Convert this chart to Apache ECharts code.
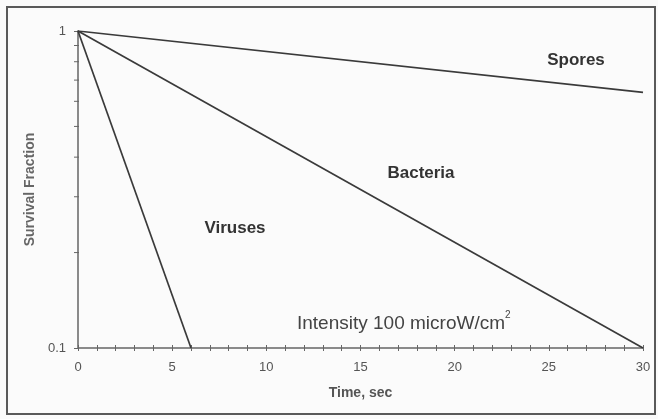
<!DOCTYPE html>
<html><head><meta charset="utf-8">
<script src="https://cdn.jsdelivr.net/npm/echarts@6/dist/echarts.min.js"></script>
<style>html,body{margin:0;padding:0;background:#fbfbfb;}#c{width:658px;height:419px;}</style>
</head><body><div id="c"></div>
<script>
const timeSec = [0, 6, 30];
const viruses = [[0, 1], [6, 0.1]];
const bacteria = [[0, 1], [30, 0.1]];
const spores = [[0, 1], [30, 0.64]];
const xTickLabels = [0, 5, 10, 15, 20, 25, 30];
const yMinorTicks = [0.2, 0.3, 0.4, 0.5, 0.6, 0.7, 0.8, 0.9];

const chart = echarts.init(document.getElementById('c'), null, {renderer: 'canvas'});
const lineStyle = {color: '#3a3a3a', width: 1.7};
const axisColor = '#8a8a8a';
chart.setOption({
  backgroundColor: '#fbfbfb',
  animation: false,
  grid: {left: 78, right: 15, top: 31, bottom: 71},
  xAxis: [{
    type: 'value', min: 0, max: 30, interval: 5,
    name: 'Time, sec', nameLocation: 'middle', nameGap: 38,
    nameTextStyle: {fontFamily: 'Liberation Sans', fontWeight: 'bold', fontSize: 14, color: '#555'},
    axisLine: {show: true, lineStyle: {color: axisColor, width: 2}},
    axisTick: {show: true, length: 3, lineStyle: {color: '#666', width: 1}},
    minorTick: {show: true, splitNumber: 5, length: 3, lineStyle: {color: '#666', width: 1}},
    axisLabel: {fontFamily: 'Liberation Sans', fontSize: 13, color: '#555', margin: 13},
    splitLine: {show: false}
  }, {
    type: 'value', min: 0, max: 30, interval: 5, position: 'bottom',
    axisLine: {show: false},
    axisTick: {show: true, inside: true, length: 3, lineStyle: {color: '#666', width: 1}},
    minorTick: {show: true, splitNumber: 5, length: 3, lineStyle: {color: '#666', width: 1}},
    axisLabel: {show: false}, splitLine: {show: false}
  }],
  yAxis: {
    type: 'log', logBase: 10, min: 0.1, max: 1,
    name: 'Survival Fraction', nameLocation: 'middle', nameGap: 34,
    nameTextStyle: {fontFamily: 'Liberation Sans', fontWeight: 'bold', fontSize: 14, color: '#666'},
    axisLine: {show: true, lineStyle: {color: axisColor, width: 2}},
    axisTick: {show: true, length: 4, lineStyle: {color: '#666'}},
    axisLabel: {fontFamily: 'Liberation Sans', fontSize: 13, color: '#555', margin: 12,
      formatter: v => (Math.abs(v - 1) < 1e-9 ? '1' : '0.1')},
    splitLine: {show: false}
  },
  series: [
    {type: 'line', data: viruses, symbol: 'none', lineStyle, silent: true},
    {type: 'line', data: bacteria, symbol: 'none', lineStyle, silent: true},
    {type: 'line', data: spores, symbol: 'none', lineStyle, silent: true},
    {type: 'custom', silent: true, data: yMinorTicks.map(v => [0, v]),
      renderItem: (params, api) => {
        const p = api.coord([api.value(0), api.value(1)]);
        return {type: 'line', shape: {x1: p[0] - 4, y1: p[1], x2: p[0] + 1, y2: p[1]},
          style: {stroke: '#666', lineWidth: 1}};
      }}
  ],
  graphic: [
    {type: 'rect', shape: {x: 7, y: 7, width: 648, height: 407}, style: {fill: 'none', stroke: '#5a5a5a', lineWidth: 2}, z: 100},
    {type: 'text', x: 576, y: 60, style: {text: 'Spores', fontFamily: 'Liberation Sans', fontWeight: 'bold', fontSize: 17, fill: '#333', align: 'center', verticalAlign: 'middle'}},
    {type: 'text', x: 421, y: 173, style: {text: 'Bacteria', fontFamily: 'Liberation Sans', fontWeight: 'bold', fontSize: 17, fill: '#333', align: 'center', verticalAlign: 'middle'}},
    {type: 'text', x: 235, y: 228, style: {text: 'Viruses', fontFamily: 'Liberation Sans', fontWeight: 'bold', fontSize: 17, fill: '#333', align: 'center', verticalAlign: 'middle'}},
    {type: 'text', x: 297, y: 324, style: {text: 'Intensity 100 microW/cm', fontFamily: 'Liberation Sans', fontSize: 19, fill: '#444', align: 'left', verticalAlign: 'middle'}},
    {type: 'text', x: 505, y: 315, style: {text: '2', fontFamily: 'Liberation Sans', fontSize: 10, fill: '#444', align: 'left', verticalAlign: 'middle'}}
  ]
});
</script></body></html>
